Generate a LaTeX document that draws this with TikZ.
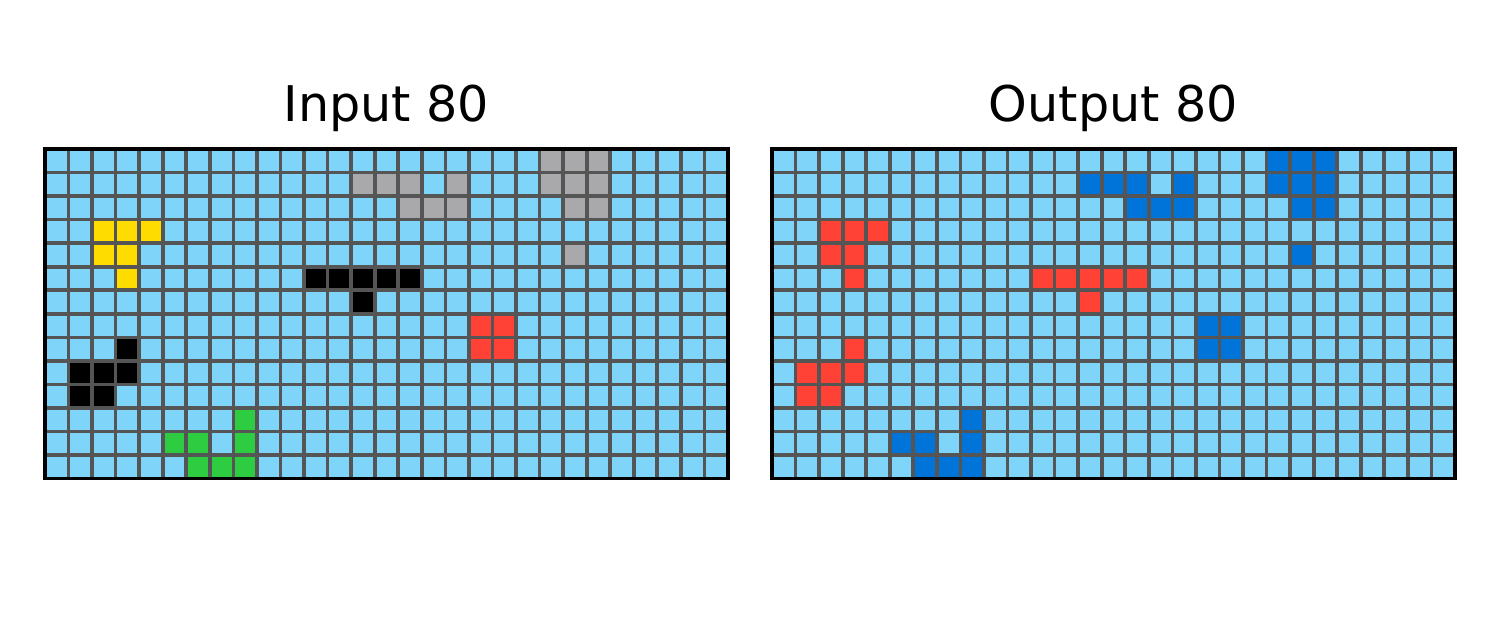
\documentclass[tikz,border=0pt]{standalone}
\usepackage{fontspec}
\setmainfont{DejaVu Sans}
\usepackage{xcolor}
\definecolor{sky}{HTML}{7FD4FA}
\definecolor{gridc}{HTML}{555555}
\definecolor{arcred}{HTML}{FF4136}
\definecolor{arcblue}{HTML}{0074D9}
\definecolor{arcgreen}{HTML}{2ECC40}
\definecolor{arcyellow}{HTML}{FFDC00}
\definecolor{arcgray}{HTML}{A9A9AC}

% cell lists, col/row counted from the top left
\def\yellowcells{2/3,3/3,4/3,2/4,3/4,3/5}
\def\blackcells{11/5,12/5,13/5,14/5,15/5,13/6,3/8,1/9,2/9,3/9,1/10,2/10}
\def\graycells{21/0,22/0,23/0,13/1,14/1,15/1,17/1,21/1,22/1,23/1,15/2,16/2,17/2,22/2,23/2,22/4}
\def\redcells{18/7,19/7,18/8,19/8}
\def\greencells{8/11,5/12,6/12,8/12,6/13,7/13,8/13}

\begin{document}
\begin{tikzpicture}[
  font=\fontsize{14}{17}\selectfont,
  ttl/.style={anchor=base, inner sep=0pt},
  gline/.style={draw=gridc, line width=1.05pt},
  frame/.style={draw=black, line width=0.9pt},
]
\def\cs{0.2355}
\def\nc{29}
\def\nr{14}
\useasboundingbox (0,0) rectangle (15,6.29);

% ---------- one grid: background, cells, lines, frame ----------
\newcommand{\arcgrid}[3]{%
  \begin{scope}[shift={(#1,4.80)}]
    \fill[sky] (0,0) rectangle (\nc*\cs,-\nr*\cs);
    #3
    \foreach \i in {1,...,28} \draw[gline] (\i*\cs,0) -- (\i*\cs,-\nr*\cs);
    \foreach \j in {1,...,13} \draw[gline] (0,-\j*\cs) -- (\nc*\cs,-\j*\cs);
    \draw[frame] (0,0) rectangle (\nc*\cs,-\nr*\cs);
  \end{scope}
  \node[ttl] (#2) at (#1+0.5*\nc*\cs,5.07) {\csname title#2\endcsname};
}
\newcommand{\paint}[2]{%
  \foreach \c/\r in #2 \fill[#1] (\c*\cs,-\r*\cs) rectangle ++(\cs,-\cs);
}
\def\titlein{Input 80}
\def\titleout{Output 80}

% =========================================================== LEFT: input
\arcgrid{0.45}{in}{%
  \paint{arcyellow}{\yellowcells}
  \paint{black}{\blackcells}
  \paint{arcgray}{\graycells}
  \paint{arcred}{\redcells}
  \paint{arcgreen}{\greencells}}

% =========================================================== RIGHT: output
\arcgrid{7.72}{out}{%
  \paint{arcred}{\yellowcells}
  \paint{arcred}{\blackcells}
  \paint{arcblue}{\graycells}
  \paint{arcblue}{\redcells}
  \paint{arcblue}{\greencells}}

\end{tikzpicture}
\end{document}
